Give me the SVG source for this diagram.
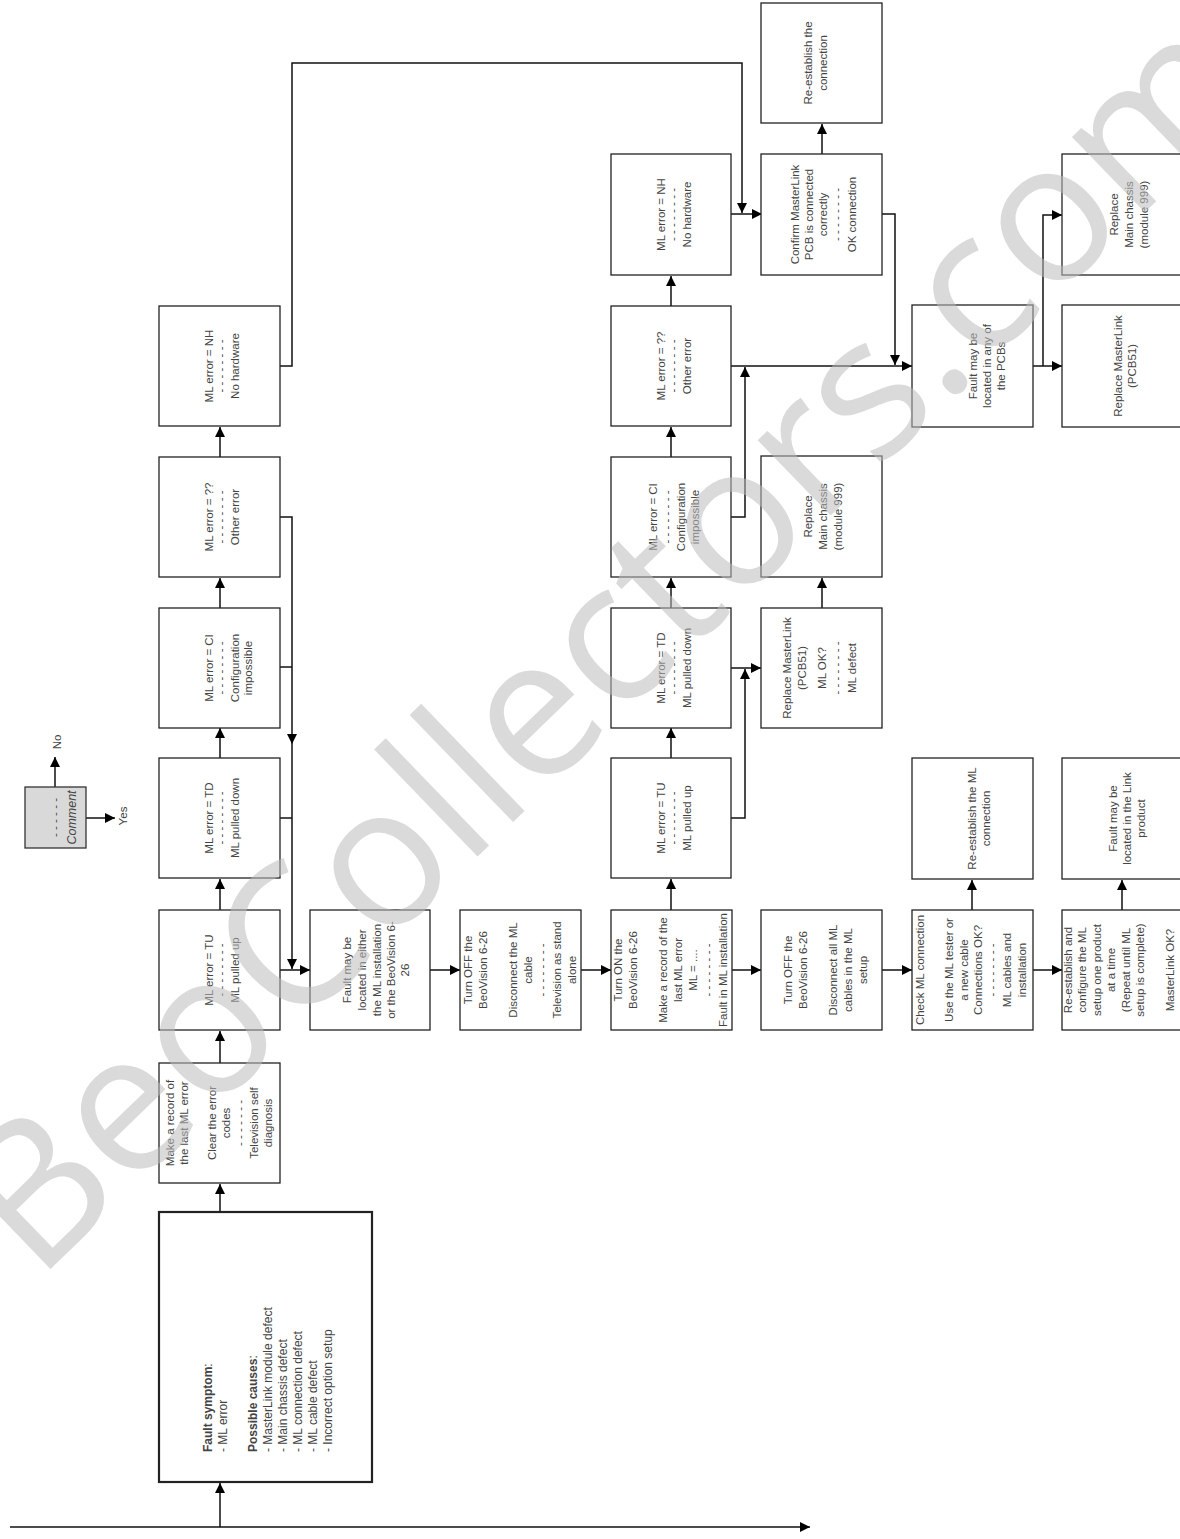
<svg xmlns="http://www.w3.org/2000/svg" width="1180" height="1539" viewBox="0 0 1180 1539">
<style>
.box{fill:#fff;stroke:#222;stroke-width:1.3}
.bold{stroke-width:2.2}
.t{font-family:"Liberation Sans",Arial,sans-serif;font-size:11.5px;fill:#444;text-anchor:middle}
.l{text-anchor:start;font-size:12px}
.c{fill:none;stroke:#111;stroke-width:1.5}
.a{marker-end:url(#ah)}
.wm{font-family:"Open Sans","Liberation Sans",Arial,sans-serif;font-weight:normal;font-size:196px;fill:#bcbcbc;fill-opacity:0.55;text-anchor:middle}
</style>
<defs>
<marker id="ah" markerUnits="userSpaceOnUse" markerWidth="10" markerHeight="10" viewBox="0 0 10 10" refX="10" refY="5" orient="auto">
<path d="M0,0 L10,5 L0,10 z" fill="#000"/>
</marker>
</defs>
<rect width="1180" height="1539" fill="#fff"/>

<g id="connectors">
<path class="c a" d="M10,1527 L810,1527"/>
<path class="c a" d="M220,1527 L220,1483"/>
<path class="c a" d="M220,1212 L220,1184"/>
<path class="c a" d="M220,1063 L220,1031"/>
<path class="c a" d="M220,910 L220,879"/>
<path class="c a" d="M220,758 L220,728"/>
<path class="c a" d="M220,608 L220,578"/>
<path class="c a" d="M220,457 L220,427"/>
<path class="c a" d="M280,366 L292,366 L292,63 L742,63 L742,213"/>
<path class="c a" d="M280,517 L292,517 L292,744"/>
<path class="c a" d="M292,744 L292,969"/>
<path class="c" d="M280,667 L292,667"/>
<path class="c" d="M280,818 L292,818"/>
<path class="c a" d="M280,970 L310,970"/>
<path class="c a" d="M430,970 L460,970"/>
<path class="c a" d="M581,970 L611,970"/>
<path class="c a" d="M732,970 L761,970"/>
<path class="c a" d="M882,970 L912,970"/>
<path class="c a" d="M1033,970 L1062,970"/>
<path class="c a" d="M671,910 L671,879"/>
<path class="c a" d="M972,910 L972,880"/>
<path class="c a" d="M1122,910 L1122,880"/>
<path class="c a" d="M671,758 L671,728"/>
<path class="c a" d="M671,608 L671,578"/>
<path class="c a" d="M671,457 L671,427"/>
<path class="c a" d="M671,306 L671,276"/>
<path class="c a" d="M731,818 L745,818 L745,669"/>
<path class="c a" d="M731,668 L761,668"/>
<path class="c a" d="M731,517 L745,517 L745,367"/>
<path class="c a" d="M731,366 L912,366"/>
<path class="c a" d="M731,214 L762,214"/>
<path class="c a" d="M822,154 L822,124"/>
<path class="c a" d="M882,214 L895,214 L895,365"/>
<path class="c a" d="M822,608 L822,578"/>
<path class="c a" d="M1033,366 L1062,366"/>
<path class="c a" d="M1043,366 L1043,215 L1062,215"/>
<path class="c a" d="M55,787 L55,757"/>
<path class="c a" d="M86,818 L115,818"/>
</g>

<g id="legend">
<rect x="25" y="787" width="61" height="61" fill="#d9d9d9" stroke="#333" stroke-width="1.3"/>
<g transform="translate(55.5 817.5) rotate(-90)">
<text class="t"><tspan x="0" y="3.5">- - - - - -</tspan><tspan x="0" y="20" font-style="italic" font-size="12.5">Comment</tspan></text>
</g>
<text class="t" transform="translate(61 742) rotate(-90)">No</text>
<text class="t" transform="translate(127 816) rotate(-90)">Yes</text>
</g>

<g id="n-fault-symptom">
<rect class="box bold" x="159" y="1212" width="213" height="270"/>
<g transform="translate(265.5 1347) rotate(-90)">
<text class="t l"><tspan x="-105" y="-53.5"><tspan font-weight="bold">Fault symptom</tspan>:</tspan><tspan x="-105" y="-38.5">- ML error</tspan><tspan x="-105" y="-8.5"><tspan font-weight="bold">Possible causes</tspan>:</tspan><tspan x="-105" y="6.5">- MasterLink module defect</tspan><tspan x="-105" y="21.5">- Main chassis defect</tspan><tspan x="-105" y="36.5">- ML connection defect</tspan><tspan x="-105" y="51.5">- ML cable defect</tspan><tspan x="-105" y="66.5">- Incorrect option setup</tspan></text>
</g>
</g>

<g id="n-make-record">
<rect class="box" x="159" y="1063" width="121" height="120"/>
<g transform="translate(219.5 1123) rotate(-90)">
<text class="t"><tspan x="0" y="-45.5">Make a record of</tspan><tspan x="0" y="-31.5">the last ML error</tspan><tspan x="0" y="-3.5">Clear the error</tspan><tspan x="0" y="10.5">codes</tspan><tspan x="0" y="24">- - - - - - -</tspan><tspan x="0" y="38.5">Television self</tspan><tspan x="0" y="52.5">diagnosis</tspan></text>
</g>
</g>

<g id="n-r1-tu">
<rect class="box" x="159" y="910" width="121" height="120"/>
<g transform="translate(219.5 970) rotate(-90)">
<text class="t"><tspan x="0" y="-6.5">ML error = TU</tspan><tspan x="0" y="5.5">- - - - - - - -</tspan><tspan x="0" y="19.5">ML pulled up</tspan></text>
</g>
</g>
<g id="n-r1-td">
<rect class="box" x="159" y="758" width="121" height="120"/>
<g transform="translate(219.5 818) rotate(-90)">
<text class="t"><tspan x="0" y="-6.5">ML error = TD</tspan><tspan x="0" y="5.5">- - - - - - - -</tspan><tspan x="0" y="19.5">ML pulled down</tspan></text>
</g>
</g>
<g id="n-r1-ci">
<rect class="box" x="159" y="608" width="121" height="120"/>
<g transform="translate(219.5 668) rotate(-90)">
<text class="t"><tspan x="0" y="-6.5">ML error = CI</tspan><tspan x="0" y="5.5">- - - - - - - -</tspan><tspan x="0" y="19.5">Configuration</tspan><tspan x="0" y="32.5">impossible</tspan></text>
</g>
</g>
<g id="n-r1-other">
<rect class="box" x="159" y="457" width="121" height="120"/>
<g transform="translate(219.5 517) rotate(-90)">
<text class="t"><tspan x="0" y="-6.5">ML error = ??</tspan><tspan x="0" y="5.5">- - - - - - - -</tspan><tspan x="0" y="19.5">Other error</tspan></text>
</g>
</g>
<g id="n-r1-nh">
<rect class="box" x="159" y="306" width="121" height="120"/>
<g transform="translate(219.5 366) rotate(-90)">
<text class="t"><tspan x="0" y="-6.5">ML error = NH</tspan><tspan x="0" y="5.5">- - - - - - - -</tspan><tspan x="0" y="19.5">No hardware</tspan></text>
</g>
</g>

<g id="n-fault-either">
<rect class="box" x="310" y="910" width="120" height="120"/>
<g transform="translate(370 970) rotate(-90)">
<text class="t"><tspan x="0" y="-19">Fault may be</tspan><tspan x="0" y="-4">located in either</tspan><tspan x="0" y="11">the ML installation</tspan><tspan x="0" y="25">or the BeoVision 6-</tspan><tspan x="0" y="39">26</tspan></text>
</g>
</g>
<g id="n-turn-off">
<rect class="box" x="460" y="910" width="121" height="120"/>
<g transform="translate(520.5 970) rotate(-90)">
<text class="t"><tspan x="0" y="-48.5">Turn OFF the</tspan><tspan x="0" y="-33.5">BeoVision 6-26</tspan><tspan x="0" y="-3.5">Disconnect the ML</tspan><tspan x="0" y="11.5">cable</tspan><tspan x="0" y="25.5">- - - - - - - -</tspan><tspan x="0" y="40.5">Television as stand</tspan><tspan x="0" y="55.5">alone</tspan></text>
</g>
</g>
<g id="n-turn-on">
<rect class="box" x="611" y="910" width="121" height="120"/>
<g transform="translate(671.5 970) rotate(-90)">
<text class="t"><tspan x="0" y="-49.5">Turn ON the</tspan><tspan x="0" y="-34.5">BeoVision 6-26</tspan><tspan x="0" y="-4.5">Make a record of the</tspan><tspan x="0" y="10.5">last ML error</tspan><tspan x="0" y="25.5">ML = ....</tspan><tspan x="0" y="40">- - - - - - - -</tspan><tspan x="0" y="55.5">Fault in ML installation</tspan></text>
</g>
</g>
<g id="n-turn-off-all">
<rect class="box" x="761" y="910" width="121" height="120"/>
<g transform="translate(821.5 970) rotate(-90)">
<text class="t"><tspan x="0" y="-29.5">Turn OFF the</tspan><tspan x="0" y="-14.5">BeoVision 6-26</tspan><tspan x="0" y="15.5">Disconnect all ML</tspan><tspan x="0" y="30.5">cables in the ML</tspan><tspan x="0" y="45.5">setup</tspan></text>
</g>
</g>
<g id="n-check-ml">
<rect class="box" x="912" y="910" width="121" height="120"/>
<g transform="translate(972.5 970) rotate(-90)">
<text class="t"><tspan x="0" y="-48.5">Check ML connection</tspan><tspan x="0" y="-19.5">Use the ML tester or</tspan><tspan x="0" y="-5">a new cable</tspan><tspan x="0" y="9.5">Connections OK?</tspan><tspan x="0" y="23.5">- - - - - - - -</tspan><tspan x="0" y="38.5">ML cables and</tspan><tspan x="0" y="53">installation</tspan></text>
</g>
</g>
<g id="n-reestablish-config">
<rect class="box" x="1062" y="910" width="121" height="120"/>
<g transform="translate(1122.5 970) rotate(-90)">
<text class="t"><tspan x="0" y="-50.5">Re-establish and</tspan><tspan x="0" y="-36.5">configure the ML</tspan><tspan x="0" y="-21.5">setup one product</tspan><tspan x="0" y="-7.5">at a time</tspan><tspan x="0" y="7.5">(Repeat until ML</tspan><tspan x="0" y="21.5">setup is complete)</tspan><tspan x="0" y="51.5">MasterLink OK?</tspan></text>
</g>
</g>

<g id="n-r2-tu">
<rect class="box" x="611" y="758" width="120" height="120"/>
<g transform="translate(671 818) rotate(-90)">
<text class="t"><tspan x="0" y="-6">ML error = TU</tspan><tspan x="0" y="6">- - - - - - - -</tspan><tspan x="0" y="20">ML pulled up</tspan></text>
</g>
</g>
<g id="n-r2-td">
<rect class="box" x="611" y="608" width="120" height="120"/>
<g transform="translate(671 668) rotate(-90)">
<text class="t"><tspan x="0" y="-6">ML error = TD</tspan><tspan x="0" y="6">- - - - - - - -</tspan><tspan x="0" y="20">ML pulled down</tspan></text>
</g>
</g>
<g id="n-r2-ci">
<rect class="box" x="611" y="457" width="120" height="120"/>
<g transform="translate(671 517) rotate(-90)">
<text class="t"><tspan x="0" y="-14">ML error = CI</tspan><tspan x="0" y="-0.5">- - - - - - - -</tspan><tspan x="0" y="14">Configuration</tspan><tspan x="0" y="28">impossible</tspan></text>
</g>
</g>
<g id="n-r2-other">
<rect class="box" x="611" y="306" width="120" height="120"/>
<g transform="translate(671 366) rotate(-90)">
<text class="t"><tspan x="0" y="-6">ML error = ??</tspan><tspan x="0" y="6">- - - - - - - -</tspan><tspan x="0" y="20">Other error</tspan></text>
</g>
</g>
<g id="n-r2-nh">
<rect class="box" x="611" y="154" width="120" height="121"/>
<g transform="translate(671 214.5) rotate(-90)">
<text class="t"><tspan x="0" y="-6">ML error = NH</tspan><tspan x="0" y="6">- - - - - - - -</tspan><tspan x="0" y="20">No hardware</tspan></text>
</g>
</g>

<g id="n-reestablish-conn">
<rect class="box" x="761" y="3" width="121" height="120"/>
<g transform="translate(821.5 63) rotate(-90)">
<text class="t"><tspan x="0" y="-9.5">Re-establish the</tspan><tspan x="0" y="5.5">connection</tspan></text>
</g>
</g>
<g id="n-confirm">
<rect class="box" x="761" y="154" width="121" height="121"/>
<g transform="translate(821.5 214.5) rotate(-90)">
<text class="t"><tspan x="0" y="-22.5">Confirm MasterLink</tspan><tspan x="0" y="-8.5">PCB is connected</tspan><tspan x="0" y="5.5">correctly</tspan><tspan x="0" y="19">- - - - - - - -</tspan><tspan x="0" y="34.5">OK connection</tspan></text>
</g>
</g>
<g id="n-replace-chassis-a">
<rect class="box" x="761" y="456" width="121" height="121"/>
<g transform="translate(821.5 516.5) rotate(-90)">
<text class="t"><tspan x="0" y="-9.5">Replace</tspan><tspan x="0" y="5.5">Main chassis</tspan><tspan x="0" y="20.5">(module 999)</tspan></text>
</g>
</g>
<g id="n-replace-ml-a">
<rect class="box" x="761" y="608" width="121" height="120"/>
<g transform="translate(821.5 668) rotate(-90)">
<text class="t"><tspan x="0" y="-30.5">Replace MasterLink</tspan><tspan x="0" y="-15.5">(PCB51)</tspan><tspan x="0" y="4.5">ML OK?</tspan><tspan x="0" y="19">- - - - - - - -</tspan><tspan x="0" y="34.5">ML defect</tspan></text>
</g>
</g>

<g id="n-fault-pcbs">
<rect class="box" x="912" y="305" width="121" height="122"/>
<g transform="translate(972.5 366) rotate(-90)">
<text class="t"><tspan x="0" y="4">Fault may be</tspan><tspan x="0" y="18">located in any of</tspan><tspan x="0" y="32">the PCBs</tspan></text>
</g>
</g>
<g id="n-reestablish-ml">
<rect class="box" x="912" y="758" width="121" height="121"/>
<g transform="translate(972.5 818.5) rotate(-90)">
<text class="t"><tspan x="0" y="3.5">Re-establish the ML</tspan><tspan x="0" y="17.5">connection</tspan></text>
</g>
</g>

<g id="n-replace-chassis-b">
<rect class="box" x="1062" y="154" width="121" height="121"/>
<g transform="translate(1122.5 214.5) rotate(-90)">
<text class="t"><tspan x="0" y="-4.5">Replace</tspan><tspan x="0" y="10.5">Main chassis</tspan><tspan x="0" y="25.5">(module 999)</tspan></text>
</g>
</g>
<g id="n-replace-ml-b">
<rect class="box" x="1062" y="305" width="121" height="122"/>
<g transform="translate(1122.5 366) rotate(-90)">
<text class="t"><tspan x="0" y="-0.5">Replace MasterLink</tspan><tspan x="0" y="13.5">(PCB51)</tspan></text>
</g>
</g>
<g id="n-fault-link">
<rect class="box" x="1062" y="758" width="121" height="121"/>
<g transform="translate(1122.5 818.5) rotate(-90)">
<text class="t"><tspan x="0" y="-5.5">Fault may be</tspan><tspan x="0" y="8.5">located in the Link</tspan><tspan x="0" y="22.5">product</tspan></text>
</g>
</g>

<g id="watermark">
<text class="wm" transform="translate(650 690) rotate(-44)">BeoCollectors.com</text>
</g>
</svg>
